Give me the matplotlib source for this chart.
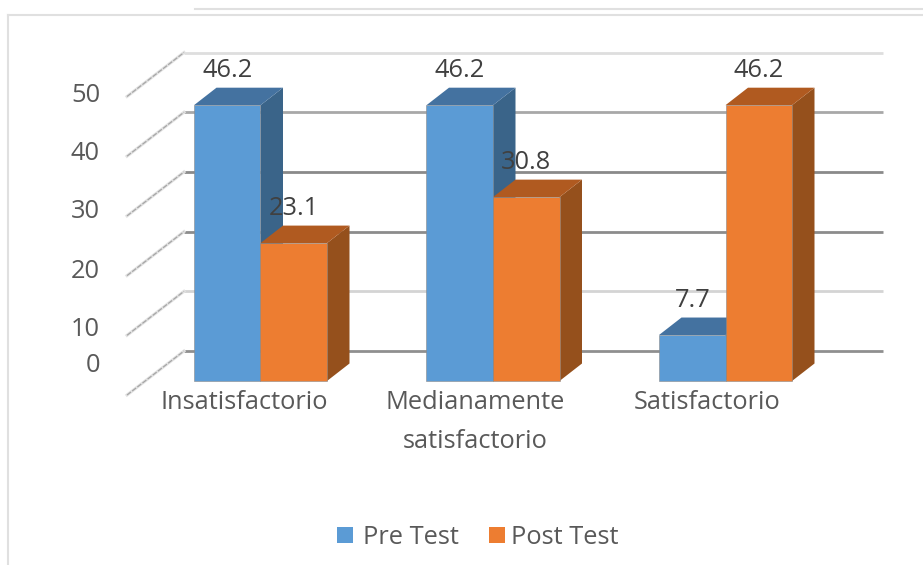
import matplotlib
matplotlib.use("Agg")
import matplotlib.pyplot as plt
from matplotlib.patches import Polygon, Rectangle

plt.rcParams["font.family"] = ["Open Sans", "DejaVu Sans"]

categories = ["Insatisfactorio", "Medianamente\nsatisfactorio", "Satisfactorio"]
pre_test = [46.2, 46.2, 7.7]
post_test = [23.1, 30.8, 46.2]
y_ticks = [0, 10, 20, 30, 40, 50]
tick_label_px = [366, 330, 271, 212, 153, 95]
grid_colors = ["#8f8f8f", "#d4d4d4", "#8c8c8c", "#8a8a8a", "#a8a8a8", "#dedede"]
series_names = ["Pre Test", "Post Test"]

W, H = 923, 565
PX_X = 232.5     # px per category
PX_Y = 5.97      # px per value unit
X0, Y0 = 260.5, 381  # front plane origin in px
BAR_W = 66.5 / PX_X
DX = 22.5 / PX_X
DY = 17.5 / PX_Y
FONT = 18.3

BLUE = ("#5b9bd5", "#4472a0", "#3a6489")
ORANGE = ("#ed7d31", "#b05a20", "#95501c")
TEXT = "#595959"


def px(x, y):
    return (x - X0) / PX_X, (Y0 - y) / PX_Y


def draw_bar(ax, x, value, colors):
    front, top, side = colors
    left, right = x - BAR_W, x
    ax.add_patch(Polygon([(right, 0), (right + DX, DY), (right + DX, value + DY), (right, value)],
                         facecolor=side, edgecolor="none", zorder=3))
    ax.add_patch(Polygon([(left, value), (left + DX, value + DY), (right + DX, value + DY), (right, value)],
                         facecolor=top, edgecolor="none", zorder=3))
    ax.bar(x - BAR_W / 2, value, BAR_W, color=front, edgecolor="#8a8a8a", linewidth=0.4, zorder=4)


fig = plt.figure(figsize=(W / 100, H / 100), dpi=100)
ax = fig.add_axes([0, 0, 1, 1])
ax.set_xlim(px(0, 0)[0], px(W, 0)[0])
ax.set_ylim(px(0, H)[1], px(0, 0)[1])
ax.axis("off")

# page frame lines
ax.plot(*zip(px(195, 9), px(W, 9)), color="#e0e0e0", lw=1.5, zorder=1)
ax.plot(*zip(px(8, 15), px(W, 15)), color="#e0e0e0", lw=1.5, zorder=1)
ax.plot(*zip(px(8, 15), px(8, H)), color="#e0e0e0", lw=1.5, zorder=1)

# back wall gridlines + floor diagonals
wall_l, _ = px(184, 0)
wall_r, _ = px(883, 0)
wall_dy = 30 / PX_Y
diag_x, _ = px(127, 0)
diag_dy = 14 / PX_Y
for v, c in zip(y_ticks, grid_colors):
    ax.plot([wall_l, wall_r], [v + wall_dy, v + wall_dy], color=c, lw=2, zorder=1, solid_capstyle="butt")
    ax.plot([diag_x, wall_l], [v - diag_dy, v + wall_dy], color="#e2e2e2", lw=2.2, zorder=1)
    ax.plot([diag_x, wall_l], [v - diag_dy, v + wall_dy], color="#a6a6a6", lw=0.9, zorder=1,
            linestyle=(0, (4, 1.2)))

for i in range(len(categories)):
    draw_bar(ax, i, pre_test[i], BLUE)
for i in range(len(categories)):
    draw_bar(ax, i + BAR_W, post_test[i], ORANGE)

# value labels
for i in range(len(categories)):
    for x, v in [(i - BAR_W / 2, pre_test[i]), (i + BAR_W / 2, post_test[i])]:
        ax.text(x, v + 34.5 / PX_Y, f"{v}", ha="center", va="center", fontsize=FONT,
                color="#404040", zorder=6)

# axis labels
for v, y in zip(y_ticks, tick_label_px):
    tx, ty = px(100, y)
    ax.text(tx, ty, str(v), ha="right", va="center", fontsize=FONT, color=TEXT)

label_px = [244, 475, 707]
for name, x in zip(categories, label_px):
    tx, ty = px(x, 390)
    ax.text(tx, ty, name, ha="center", va="top", fontsize=FONT, color=TEXT, linespacing=1.72)

# legend
for name, color, sq, tx in zip(series_names, [BLUE[0], ORANGE[0]], [337, 489], [363, 511]):
    x0, y0 = px(sq, 543)
    ax.add_patch(Rectangle((x0, y0), 16 / PX_X, 16 / PX_Y, facecolor=color, edgecolor="none"))
    ax.text(*px(tx, 537), name, ha="left", va="center", fontsize=FONT, color=TEXT)

fig.savefig("out.png", dpi=100)
